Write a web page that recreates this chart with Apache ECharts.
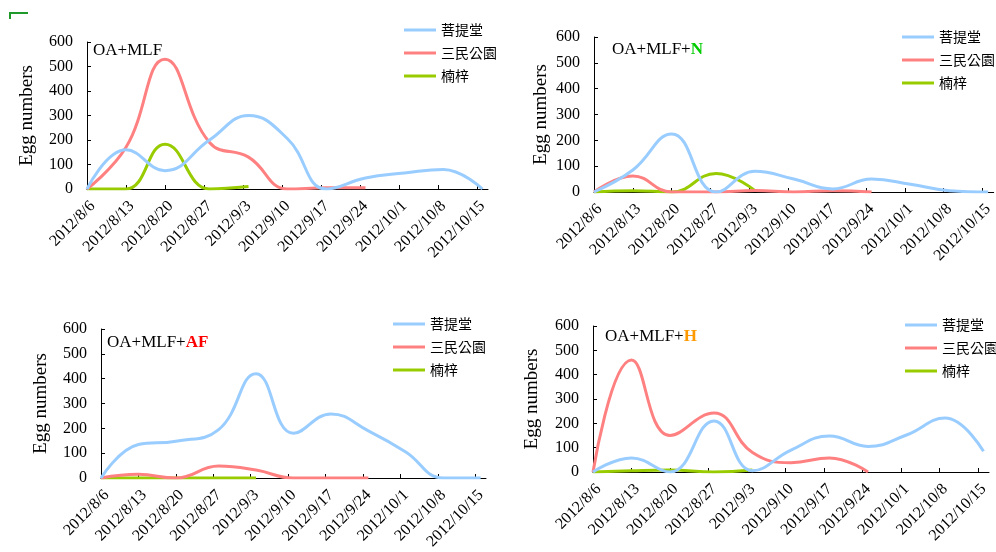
<!DOCTYPE html>
<html>
<head>
<meta charset="utf-8">
<script src="https://cdn.jsdelivr.net/npm/echarts@6/dist/echarts.min.js"></script>
<style>html,body{margin:0;padding:0;background:#fff;}#c{width:996px;height:552px;}</style>
</head>
<body>
<div id="c"></div>
<script>
// Tick labels (weekly) and sampling days (days after 2012/8/6)
const tickLabels = ['2012/8/6','2012/8/13','2012/8/20','2012/8/27','2012/9/3','2012/9/10','2012/9/17','2012/9/24','2012/10/1','2012/10/8','2012/10/15'];
const tickDays = [0,7,14,21,28,35,42,49,56,63,70];
const sampleDays = [0,7,14,22,29,36,43,50,57,64,71];
const yTicks = [0,100,200,300,400,500,600];
const siteNames = ['菩提堂','三民公園','楠梓'];

// Panel 1: OA+MLF
const p1Site1 = [0,160,75,200,300,205,0,45,65,80,0];
const p1Site2 = [0,170,530,190,130,0,5,5];
const p1Site3 = [0,0,183,0,10];
// Panel 2: OA+MLF+N
const p2Site1 = [0,85,225,0,80,50,12,50,30,5,0];
const p2Site2 = [0,62,0,0,6,0,5,0];
const p2Site3 = [0,5,0,72,5];
// Panel 3: OA+MLF+AF
const p3Site1 = [0,135,148,195,420,180,258,190,105,0,0];
const p3Site2 = [0,15,0,48,32,0,0,0];
const p3Site3 = [0,0,0,0,0];
// Panel 4: OA+MLF+H
const p4Site1 = [0,58,0,210,5,90,148,105,152,222,85];
const p4Site2 = [0,460,150,242,80,38,58,0];
const p4Site3 = [0,5,8,0,8];

const colors = ['#99CCFF','#FF8080','#99CC00'];
const serif = 'Liberation Serif';

const panels = [
  {grid:{left:87, top:42, width:401, height:147}, title:{left:93, top:42, text:'{a|OA+MLF}'}, legend:{left:404, top:23}, data:[p1Site1,p1Site2,p1Site3], nameGap:50},
  {grid:{left:594, top:37, width:404, height:155}, title:{left:612, top:41, text:'{a|OA+MLF+}{n|N}'}, legend:{left:902, top:30}, data:[p2Site1,p2Site2,p2Site3], nameGap:43},
  {grid:{left:101, top:329, width:385, height:152}, title:{left:107, top:334, text:'{a|OA+MLF+}{af|AF}'}, legend:{left:393, top:317}, data:[p3Site1,p3Site2,p3Site3], nameGap:50},
  {grid:{left:593, top:326, width:396, height:146}, title:{left:605, top:328, text:'{a|OA+MLF+}{h|H}'}, legend:{left:905, top:318}, data:[p4Site1,p4Site2,p4Site3], nameGap:51}
];

const rich = {
  a:{fontFamily:serif, fontSize:17, color:'#000', fontWeight:'normal'},
  n:{fontFamily:serif, fontSize:17, color:'#00CC00', fontWeight:'bold'},
  af:{fontFamily:serif, fontSize:17, color:'#FF0000', fontWeight:'bold'},
  h:{fontFamily:serif, fontSize:17, color:'#FF9900', fontWeight:'bold'}
};

const option = {
  animation:false,
  backgroundColor:'#fff',
  color: colors,
  grid: panels.map(p => p.grid),
  title: panels.map(p => ({left:p.title.left, top:p.title.top, text:p.title.text, padding:0,
    textStyle:{fontWeight:'normal', fontFamily:serif, fontSize:17, rich:rich}})),
  legend: panels.map(p => ({
    left:p.legend.left, top:p.legend.top, orient:'vertical', padding:0,
    icon:'rect', itemWidth:32, itemHeight:3, itemGap:9,
    data: siteNames,
    textStyle:{fontFamily:'Noto Sans CJK TC', fontSize:14, color:'#000', lineHeight:14}
  })),
  xAxis: panels.map((p,i) => ({
    type:'value', gridIndex:i, min:0, max:72,
    axisLine:{show:true, onZero:false, lineStyle:{color:'#000', width:1}},
    axisTick:{show:true, inside:true, length:4, customValues:tickDays, lineStyle:{color:'#000'}},
    splitLine:{show:false},
    axisLabel:{customValues:tickDays, rotate:45, margin:9, verticalAlign:'top', fontFamily:serif, fontSize:16, color:'#000',
      formatter: v => tickLabels[tickDays.indexOf(v)] || ''}
  })),
  yAxis: panels.map((p,i) => ({
    type:'value', gridIndex:i, min:0, max:600, interval:100,
    name:'Egg numbers', nameLocation:'middle', nameGap:p.nameGap,
    nameTextStyle:{fontFamily:serif, fontSize:19, color:'#000'},
    axisLine:{show:true, lineStyle:{color:'#000', width:1}},
    axisTick:{show:true, inside:true, length:4, lineStyle:{color:'#000'}},
    splitLine:{show:false},
    axisLabel:{margin:14, fontFamily:serif, fontSize:16, color:'#000'}
  })),
  series: []
};

panels.forEach((p,i) => {
  p.data.forEach((vals,k) => {
    option.series.push({
      type:'line', name:siteNames[k], xAxisIndex:i, yAxisIndex:i,
      data: vals.map((v,j) => [sampleDays[j], v]),
      smooth:0.45, showSymbol:false, symbol:'none', clip:true,
      lineStyle:{color:colors[k], width:3},
      itemStyle:{color:colors[k]},
      z: 3 - k
    });
  });
});

option.graphic = [{
  type:'polyline', shape:{points:[[10,19],[10,13],[28,13]]},
  style:{stroke:'#1f9a2a', lineWidth:2, fill:null}, silent:true
}];

const chart = echarts.init(document.getElementById('c'), null, {renderer:'canvas'});
chart.setOption(option);
</script>
</body>
</html>
